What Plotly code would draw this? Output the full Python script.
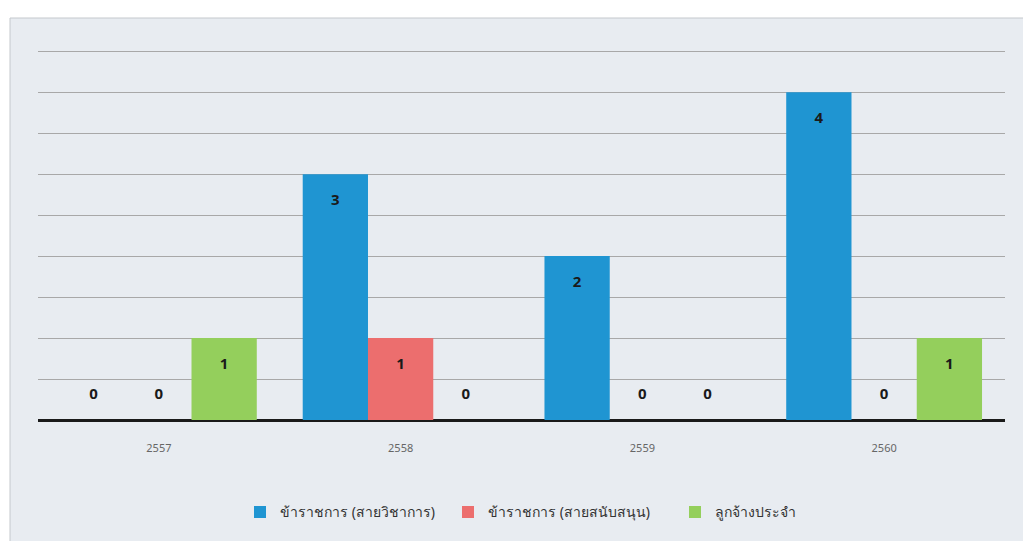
import plotly.graph_objects as go

years = ["2557", "2558", "2559", "2560"]
series_names = ["ข้าราชการ (สายวิชาการ)", "ข้าราชการ (สายสนับสนุน)", "ลูกจ้างประจำ"]
academic = [0, 3, 2, 4]
support = [0, 1, 0, 0]
permanent = [1, 0, 0, 1]
colors = ["#1f95d2", "#ec6e6e", "#94cf5c"]
legend_widths = [163, 182, 110]

W, H = 1023, 541
ml, mr, mt, mb = 38, 18, 43, 121
pw, ph = W - ml - mr, H - mt - mb

fig = go.Figure()
all_series = [academic, support, permanent]
for i, (name, vals, col, lw) in enumerate(zip(series_names, all_series, colors, legend_widths)):
    fig.add_trace(go.Bar(
        x=years, y=vals, name=name, marker=dict(color=col, line=dict(width=0)),
        offsetgroup=str(i), hoverinfo="skip", legendwidth=lw,
    ))
for i, vals in enumerate(all_series):
    ty = [v - 0.33 if v > 0 else 0.3 for v in vals]
    fig.add_trace(go.Scatter(
        x=years, y=ty, mode="text", text=[str(v) for v in vals],
        textfont=dict(family="Open Sans", size=15, color="#1a1a1a", weight="bold"),
        offsetgroup=str(i), showlegend=False, hoverinfo="skip",
    ))

# chart area background box
fig.add_shape(type="rect", xref="paper", yref="paper",
              x0=(10 - ml) / pw, x1=(W + 2 - ml) / pw,
              y0=-(H + 2 - mt - ph) / ph, y1=(H - mb - 18) / ph,
              fillcolor="#e8ecf1", line=dict(color="#c4c8cd", width=1), layer="below")

fig.update_layout(
    width=W, height=H,
    margin=dict(l=ml, r=mr, t=mt, b=mb),
    paper_bgcolor="white", plot_bgcolor="rgba(0,0,0,0)",
    barmode="group", bargap=0.19, bargroupgap=0,
    scattermode="group", scattergap=0.19,
    font=dict(family="Noto Sans, DejaVu Sans", color="#444"),
    legend=dict(orientation="h", x=(240 - ml) / pw, xanchor="left", y=-0.245, yanchor="middle",
                font=dict(size=14, color="#333"), itemwidth=30, traceorder="normal",
                bgcolor="rgba(0,0,0,0)"),
    xaxis=dict(showgrid=False, tickfont=dict(size=11, color="#666"), ticks="",
               showline=False, zeroline=False, ticklabelstandoff=20),
    yaxis=dict(range=[0, 4.6], dtick=0.5, showticklabels=False, gridcolor="#a8a8a8",
               gridwidth=1, zeroline=True, zerolinecolor="#1a1a1a", zerolinewidth=3,
               showline=False),
)

fig.write_html("out.html", config={"displayModeBar": False},
               post_script="document.body.style.margin='0';")
